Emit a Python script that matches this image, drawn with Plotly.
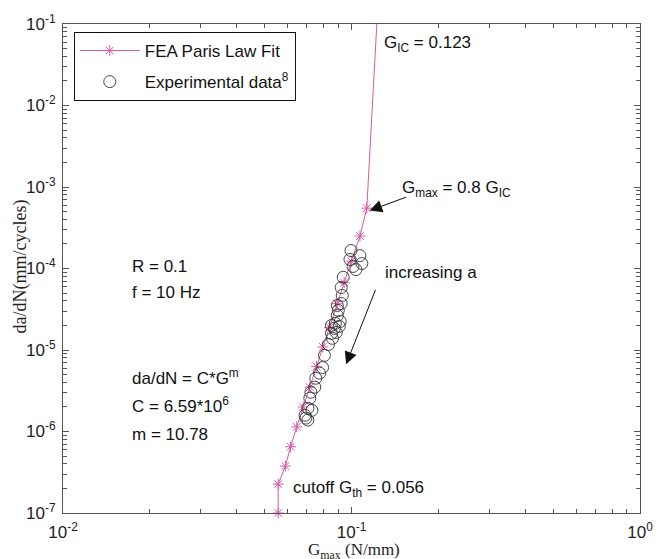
import plotly.graph_objects as go

# FEA Paris law fit (G_max in N/mm, da/dN in mm/cycle)
fea_g = [0.0557, 0.0557, 0.0590, 0.0615, 0.0646, 0.0680, 0.0717, 0.0756, 0.0796,
         0.0839, 0.0891, 0.0943, 0.0998, 0.1070, 0.1130, 0.1224]
fea_dadn = [1.0e-7, 2.26e-7, 3.76e-7, 6.5e-7, 1.14e-6, 2.0e-6, 3.5e-6, 6.3e-6, 1.09e-5,
            1.9e-5, 3.7e-5, 6.7e-5, 1.23e-4, 2.5e-4, 5.5e-4, 1.0e-1]

# Experimental data
exp_g = [0.0996, 0.1069, 0.0988, 0.1086, 0.1012, 0.1036, 0.0936, 0.0921, 0.0929,
         0.0921, 0.0893, 0.0900, 0.0893, 0.0914, 0.0879, 0.0852, 0.0872, 0.0907,
         0.0886, 0.0852, 0.0859, 0.0832, 0.0806, 0.0794, 0.0775, 0.0752, 0.0746,
         0.0723, 0.0717, 0.0706, 0.0729, 0.0690, 0.0706, 0.0695]
exp_dadn = [1.66e-4, 1.44e-4, 1.29e-4, 1.15e-4, 1.06e-4, 9.7e-5, 7.8e-5, 5.85e-5, 4.67e-5,
            3.72e-5, 3.52e-5, 3.06e-5, 2.65e-5, 2.24e-5, 2.12e-5, 2.0e-5, 1.84e-5, 1.95e-5,
            1.64e-5, 1.6e-5, 1.39e-5, 1.17e-5, 8.6e-6, 6.1e-6, 5.2e-6, 4.5e-6, 3.5e-6,
            3.03e-6, 2.56e-6, 1.93e-6, 1.82e-6, 1.58e-6, 1.38e-6, 1.46e-6]

x_tickvals = [0.01, 0.1, 1]
x_ticktext = ["10<sup>-2</sup>", "10<sup>-1</sup>", "10<sup>0</sup>"]
y_tickvals = [1e-7, 1e-6, 1e-5, 1e-4, 1e-3, 1e-2, 1e-1]
y_ticktext = ["10<sup>-7</sup>", "10<sup>-6</sup>", "10<sup>-5</sup>", "10<sup>-4</sup>",
              "10<sup>-3</sup>", "10<sup>-2</sup>", "10<sup>-1</sup>"]
minor_digits = [2, 3, 4, 5, 6, 7, 8, 9]

SANS = "Liberation Sans, Arial, sans-serif"
SERIF = "Liberation Serif, Times New Roman, serif"
PINK = "#d65aa5"
AXC = "#555555"

W, H = 665, 559
L, R, T, B = 63, 13, 23, 46
PW, PH = W - L - R, H - T - B


def px(xp):
    return (xp - L) / PW


def py(yp):
    return (H - B - yp) / PH


fig = go.Figure()
fig.add_trace(go.Scatter(
    x=fea_g, y=fea_dadn, mode="lines+markers", name="FEA Paris Law Fit",
    line=dict(color=PINK, width=1),
    marker=dict(symbol="asterisk-open", size=9, color=PINK, line=dict(color=PINK, width=1)),
    cliponaxis=False, legendgroup="a"))
fig.add_trace(go.Scatter(
    x=exp_g, y=exp_dadn, mode="markers", name="Experimental data<sup>8</sup>",
    marker=dict(symbol="circle-open", size=12, color="#333333", line=dict(color="#333333", width=0.9)),
    cliponaxis=False, legendgroup="b"))


def minor_vals(tickvals):
    return [d * v for v in tickvals[:-1] for d in minor_digits]


axis_common = dict(
    type="log", showgrid=False, zeroline=False, showline=True, linecolor=AXC, linewidth=1,
    mirror="allticks", ticks="inside", ticklen=6, tickcolor=AXC, tickwidth=1,
    tickfont=dict(family=SANS, size=17, color="#222222"), ticklabeloverflow="allow",
)

fig.update_xaxes(range=[-2, 0], tickvals=x_tickvals, ticktext=x_ticktext, ticklabelstandoff=4,
                 minor=dict(ticks="inside", ticklen=4, tickcolor=AXC, tickvals=minor_vals(x_tickvals),
                            showgrid=False),
                 **axis_common)
fig.update_yaxes(range=[-7, -1], tickvals=y_tickvals, ticktext=y_ticktext, ticklabelstandoff=3,
                 minor=dict(ticks="inside", ticklen=4, tickcolor=AXC, tickvals=minor_vals(y_tickvals),
                            showgrid=False),
                 **axis_common)

tf = dict(family=SANS, size=17, color="#111111")
ann = [
    dict(text="G<sub>IC</sub> = 0.123", x=px(389), y=py(43)),
    dict(text="G<sub>max</sub> = 0.8 G<sub>IC</sub>", x=px(407), y=py(188)),
    dict(text="R = 0.1", x=px(131), y=py(266)),
    dict(text="f = 10 Hz", x=px(131), y=py(292)),
    dict(text="da/dN = C*G<sup>m</sup>", x=px(131), y=py(377)),
    dict(text="C = 6.59*10<sup>6</sup>", x=px(131), y=py(405)),
    dict(text="m = 10.78", x=px(131), y=py(434)),
    dict(text="increasing a", x=px(390), y=py(272)),
    dict(text="cutoff G<sub>th</sub> = 0.056", x=px(296), y=py(489)),
]
for a in ann:
    fig.add_annotation(xref="paper", yref="paper", xanchor="left", yanchor="middle",
                       showarrow=False, font=tf, **a)

# arrows
fig.add_annotation(xref="paper", yref="paper", x=px(376), y=py(210), ax=38, ay=-14,
                   text="", showarrow=True, arrowhead=2, arrowsize=2.5, arrowwidth=1,
                   arrowcolor="#111111", standoff=0)
fig.add_annotation(xref="paper", yref="paper", x=px(352), y=py(364), ax=30, ay=-76,
                   text="", showarrow=True, arrowhead=2, arrowsize=2.5, arrowwidth=1,
                   arrowcolor="#111111", standoff=0)

# axis titles
fig.add_annotation(xref="paper", yref="paper", x=px(360), y=py(551), xanchor="center",
                   yanchor="middle", showarrow=False,
                   text="G<sub>max</sub> (N/mm)", font=dict(family=SERIF, size=17, color="#222222"))
fig.add_annotation(xref="paper", yref="paper", x=px(20), y=py(266), xanchor="center",
                   yanchor="middle", showarrow=False, textangle=-90,
                   text="da/dN(mm/cycles)", font=dict(family=SERIF, size=18, color="#222222"))

fig.update_layout(
    width=W, height=H, margin=dict(l=L, r=R, t=T, b=B),
    paper_bgcolor="white", plot_bgcolor="white",
    showlegend=True,
    legend=dict(x=px(74), y=py(31), xanchor="left", yanchor="top",
                bordercolor="#111111", borderwidth=1, bgcolor="white",
                font=dict(family=SANS, size=17, color="#111111"),
                tracegroupgap=6, traceorder="grouped", itemwidth=60),
)

fig.write_html("out.html")
